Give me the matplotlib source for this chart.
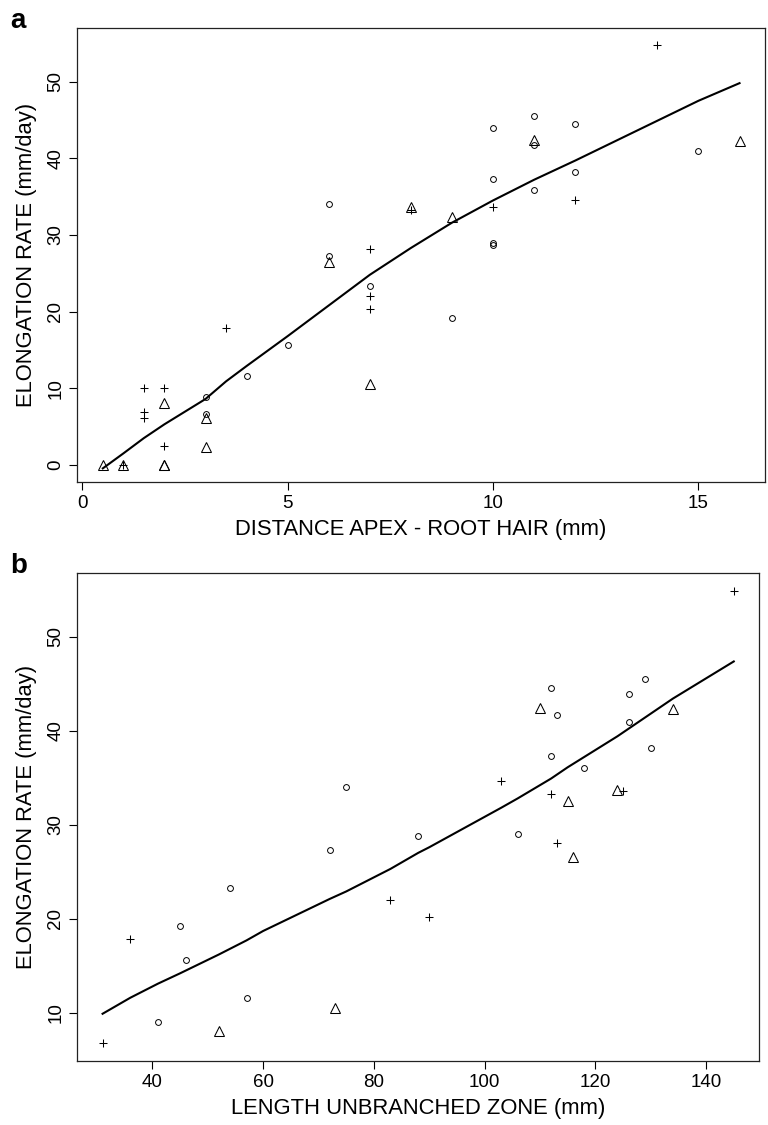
import matplotlib
matplotlib.use("Agg")
import matplotlib.pyplot as plt
import numpy as np

plt.rcParams['font.family'] = ['Liberation Sans', 'DejaVu Sans']

# ---- panel a: distance apex - root hair (mm) vs elongation rate (mm/day)
a_circ_x = [3, 3, 4, 5, 6, 6, 7, 9, 10, 10, 10, 10, 11, 11, 11, 12, 12, 15]
a_circ_y = [8.9, 6.7, 11.6, 15.7, 34.0, 27.2, 23.3, 19.2, 43.9, 37.3, 28.7, 29.0,
            45.5, 41.7, 35.9, 44.5, 38.2, 40.9]
a_plus_x = [1, 1.5, 1.5, 1.5, 2, 2, 3.5, 7, 7, 7, 8, 10, 12, 14]
a_plus_y = [0, 10.0, 6.9, 6.1, 10.0, 2.5, 17.9, 28.2, 22.0, 20.3, 33.3, 33.6, 34.6, 54.8]
a_tri_x = [0.5, 1, 2, 2, 2, 3, 3, 6, 7, 8, 9, 11, 16]
a_tri_y = [0, 0, 8.1, 0, 0, 6.1, 2.4, 26.5, 10.6, 33.7, 32.4, 42.4, 42.3]
# smoothed (lowess) curve
a_fit_x = [0.5, 1, 1.5, 2, 3, 3.5, 4, 5, 6, 7, 8, 9, 10, 11, 12, 14, 15, 16]
a_fit_y = [-0.45, 1.5, 3.5, 5.3, 8.6, 10.9, 12.9, 16.8, 20.8, 24.8, 28.3, 31.6,
           34.5, 37.2, 39.7, 44.9, 47.5, 49.8]

# ---- panel b: length unbranched zone (mm) vs elongation rate (mm/day)
b_circ_x = [41, 45, 46, 54, 57, 72, 75, 88, 106, 112, 112, 113, 118, 126, 126, 129, 130]
b_circ_y = [9.0, 19.2, 15.6, 23.3, 11.6, 27.3, 34.0, 28.8, 29.0, 44.5, 37.3, 41.7,
            36.0, 43.9, 40.9, 45.5, 38.2]
b_plus_x = [31, 36, 83, 90, 103, 112, 113, 125, 145]
b_plus_y = [6.8, 17.9, 22.0, 20.2, 34.6, 33.3, 28.1, 33.6, 54.8]
b_tri_x = [52, 73, 110, 115, 116, 124, 134]
b_tri_y = [8.1, 10.5, 42.4, 32.5, 26.6, 33.7, 42.3]
b_fit_x = [31, 36, 41, 45, 52, 57, 60, 72, 75, 83, 88, 90, 103, 106, 110, 112, 115,
           118, 124, 126, 130, 134, 145]
b_fit_y = [9.9, 11.6, 13.1, 14.2, 16.2, 17.7, 18.7, 22.1, 22.9, 25.3, 27.0, 27.6,
           31.8, 32.8, 34.2, 34.9, 36.1, 37.2, 39.4, 40.2, 41.8, 43.4, 47.35]

ylabel = 'ELONGATION RATE (mm/day)'


def r_range(vals):
    # R style axis range: data range expanded by 4% each side
    lo, hi = min(vals), max(vals)
    d = (hi - lo) * 0.04
    return lo - d, hi + d


def panel(ax, cx, cy, px, py, tx, ty, fx, fy, xticks, yticks, xlabel, tag):
    ax.plot(cx, cy, 'o', ms=4.2, mfc='none', mec='black', mew=0.7)
    ax.plot(px, py, '+', ms=6.3, mec='black', mew=0.75)
    ax.plot(tx, ty, '^', ms=6.5, mfc='none', mec='black', mew=0.75)
    ax.plot(fx, fy, '-', color='black', lw=1.5)

    ax.set_xlim(r_range(cx + px + tx))
    ax.set_ylim(r_range(cy + py + ty))
    ax.set_xticks(xticks)
    ax.set_yticks(yticks)
    ax.tick_params(direction='out', length=6, width=0.8, labelsize=13.5, pad=3.5)
    for lab in ax.get_yticklabels():
        lab.set_rotation(90)
        lab.set_va('center')
    for s in ax.spines.values():
        s.set_linewidth(0.9)
        s.set_color('#222222')
    ax.set_xlabel(xlabel, fontsize=15.8, labelpad=5)
    ax.set_ylabel(ylabel, fontsize=15.8, labelpad=7)
    # panel letter, baseline level with the top of the box
    top = ax.get_position().y1
    fig.text(0.013, top, tag, fontsize=20, fontweight='bold', ha='left', va='baseline')


fig = plt.figure(figsize=(7.68, 11.25), dpi=100)
ax1 = fig.add_axes([0.1007, 0.5718, 0.8954, 0.4033])
ax2 = fig.add_axes([0.1007, 0.0569, 0.8876, 0.4335])

panel(ax1, a_circ_x, a_circ_y, a_plus_x, a_plus_y, a_tri_x, a_tri_y, a_fit_x, a_fit_y,
      [0, 5, 10, 15], [0, 10, 20, 30, 40, 50], 'DISTANCE APEX - ROOT HAIR (mm)', 'a')
panel(ax2, b_circ_x, b_circ_y, b_plus_x, b_plus_y, b_tri_x, b_tri_y, b_fit_x, b_fit_y,
      [40, 60, 80, 100, 120, 140], [10, 20, 30, 40, 50], 'LENGTH UNBRANCHED ZONE (mm)', 'b')

fig.savefig('out.png', dpi=100)
